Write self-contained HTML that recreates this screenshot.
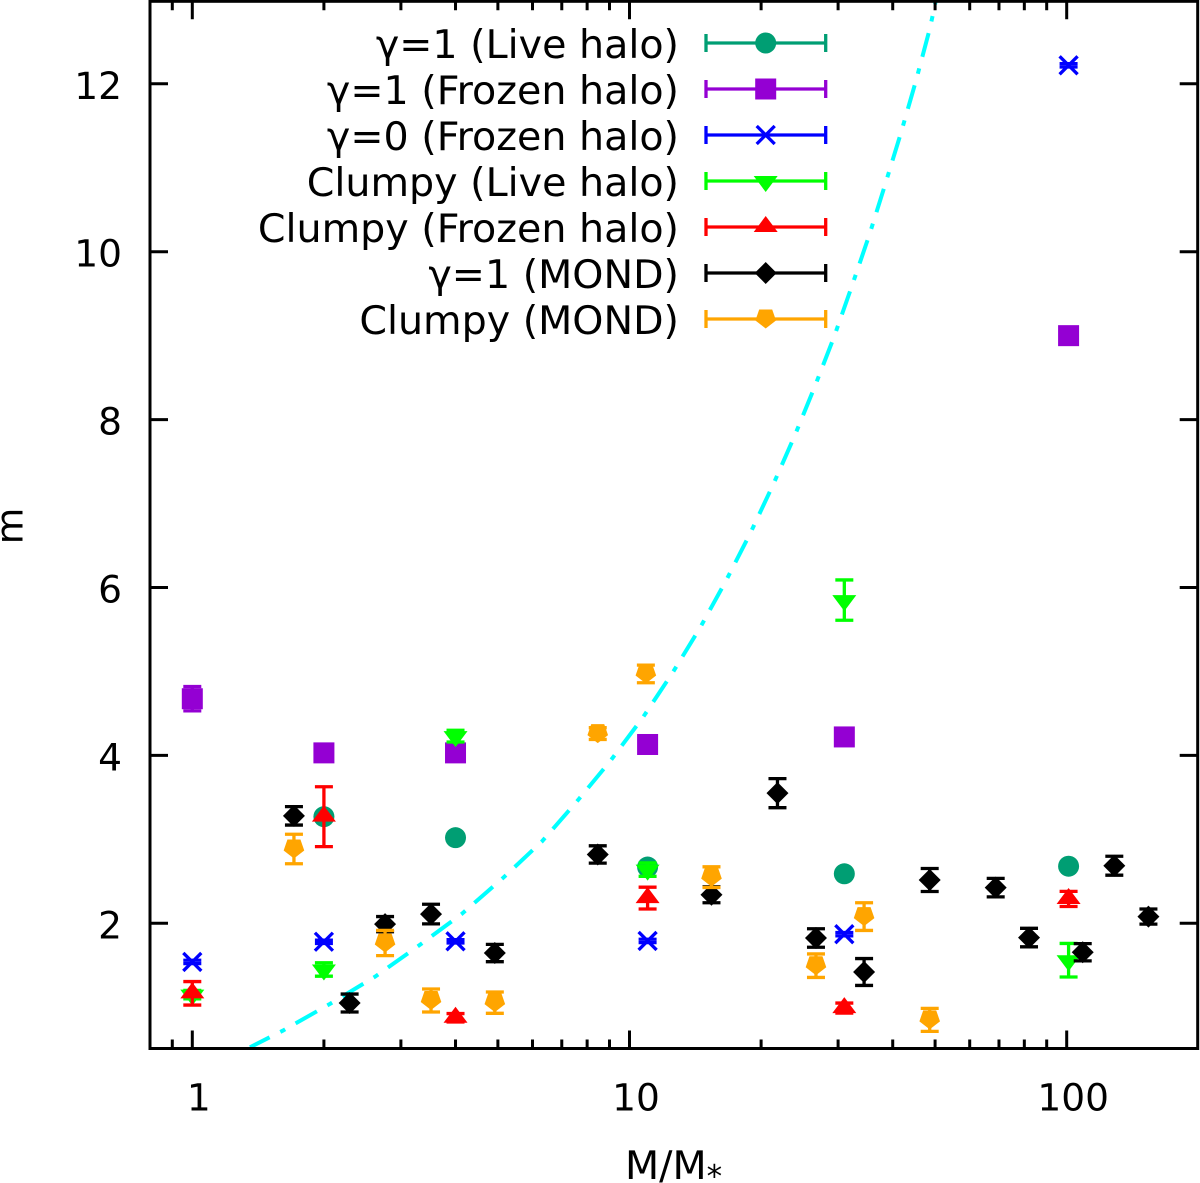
<!DOCTYPE html>
<html lang="en">
<head>
<meta charset="utf-8">
<title>m versus M/M* scatter chart</title>
<style>
html,body{margin:0;padding:0;background:#fff;width:1200px;height:1183px;overflow:hidden}
svg{display:block}
text{font-family:"DejaVu Sans","Liberation Sans",sans-serif;font-size:37.5px;fill:#000}
#legend text{font-size:39.6px}
#x-title{font-size:39.6px}
</style>
</head>
<body>
<svg id="chart" xmlns="http://www.w3.org/2000/svg" width="1200" height="1183" viewBox="0 0 1200 1183">
  <defs><clipPath id="plot-clip"><rect x="150" y="0" width="1048" height="1049"/></clipPath></defs>
  <rect x="0" y="0" width="1200" height="1183" fill="#fff"/>
  <g id="curve-layer" clip-path="url(#plot-clip)"></g>
  <g id="series-layer"></g>
  <g id="legend" text-anchor="end">
    <text x="679" y="58">γ=1 (Live halo)</text>
    <text x="679" y="104">γ=1 (Frozen halo)</text>
    <text x="679" y="150">γ=0 (Frozen halo)</text>
    <text x="679" y="196">Clumpy (Live halo)</text>
    <text x="679" y="242">Clumpy (Frozen halo)</text>
    <text x="679" y="288">γ=1 (MOND)</text>
    <text x="679" y="334">Clumpy (MOND)</text>
  </g>
  <g id="axis-layer"></g>
  <text id="x-title" x="625" y="1179">M/M<tspan font-size="31" dy="8">*</tspan></text>
  <text text-anchor="middle" transform="translate(22.5 526) rotate(-90)">m</text>
</svg>
<script>
// ---- axis tick data ----
const xMajorTicks = [1, 10, 100];
const xMinorTicks = [0.9, 2, 3, 4, 5, 6, 7, 8, 9, 20, 30, 40, 50, 60, 70, 80, 90];
const yTicks = [2, 4, 6, 8, 10, 12];

// ---- series data ----
const liveX = [2, 4, 11, 31, 101];
const liveY = [3.27, 3.02, 2.67, 2.59, 2.68];
const liveErr = [0.03, 0.03, 0.03, 0.03, 0.03];

const frozenX = [1, 2, 4, 11, 31, 101];
const frozenY = [4.675, 4.03, 4.03, 4.13, 4.22, 9.0];
const frozenErr = [0.145, 0.03, 0.09, 0.03, 0.03, 0.03];

const gamma0X = [1, 2, 4, 11, 31, 101];
const gamma0Y = [1.54, 1.78, 1.785, 1.79, 1.87, 12.22];
const gamma0Err = [0.02, 0.02, 0.02, 0.02, 0.02, 0.02];

const clumpyLiveX = [1, 2, 4, 11, 31, 101];
const clumpyLiveY = [1.15, 1.45, 4.23, 2.64, 5.85, 1.56];
const clumpyLiveErr = [0.05, 0.08, 0.07, 0.08, 0.24, 0.2];

const clumpyFrozenX = [1, 2, 4, 11, 31, 101];
const clumpyFrozenY = [1.166, 3.27, 0.875, 2.3, 0.99, 2.29];
const clumpyFrozenErr = [0.14, 0.357, 0.05, 0.13, 0.06, 0.09];

const mondX = [1.708, 2.29, 2.76, 3.516, 4.92, 8.46, 15.4, 21.8, 26.7, 34.4, 48.6, 68.8, 82, 108.8, 128.5, 153.8];
const mondY = [3.28, 1.05, 1.99, 2.11, 1.646, 2.82, 2.34, 3.55, 1.825, 1.42, 2.516, 2.425, 1.83, 1.655, 2.686, 2.08];
const mondErr = [0.11, 0.107, 0.09, 0.117, 0.103, 0.103, 0.095, 0.173, 0.11, 0.16, 0.137, 0.11, 0.11, 0.103, 0.113, 0.09];

const clumpyMondX = [1.708, 2.76, 3.516, 4.92, 8.46, 10.9, 15.4, 26.7, 34.4, 48.6];
const clumpyMondY = [2.885, 1.765, 1.08, 1.055, 4.26, 4.97, 2.55, 1.495, 2.08, 0.85];
const clumpyMondErr = [0.176, 0.15, 0.137, 0.127, 0.07, 0.105, 0.123, 0.14, 0.165, 0.137];

// ---- dash-dot reference curve ----
const curveX = [1.355, 1.61, 2.058, 2.617, 3.306, 4.132, 5.145, 6.298, 7.572, 9.04, 10.72, 12.55, 14.5, 16.62, 18.9, 21.33, 23.87, 26.56, 29.39, 32.28, 35.36, 38.47, 41.78, 45.15, 48.68, 50.06, 50.5];
const curveY = [0.523, 0.721, 1.035, 1.364, 1.738, 2.111, 2.543, 2.972, 3.448, 3.933, 4.449, 4.985, 5.521, 6.081, 6.649, 7.229, 7.808, 8.4, 8.99, 9.595, 10.199, 10.806, 11.417, 12.025, 12.665, 12.959, 13.1];

// ---- axis functions ----
const xPx = v => 192.3 + Math.log10(v) * 437.2;
const yPx = v => 923.3 - (v - 2) * 83.95;

const NS = 'http://www.w3.org/2000/svg';
const LW = 3.3;
function make(tag, attrs, parent) {
  const node = document.createElementNS(NS, tag);
  for (const k in attrs) node.setAttribute(k, attrs[k]);
  parent.appendChild(node);
  return node;
}
function drawMarker(kind, cx, cy, color, parent) {
  let m;
  const poly = pts => make('polygon', {points: pts.map(p => (cx + p[0]) + ',' + (cy + p[1])).join(' '), fill: color}, parent);
  if (kind === 'circle') m = make('circle', {cx: cx, cy: cy, r: 10.5, fill: color}, parent);
  if (kind === 'square') m = make('rect', {x: cx - 10.5, y: cy - 10.5, width: 21, height: 21, fill: color}, parent);
  if (kind === 'cross') m = make('path', {d: 'M' + (cx - 9) + ' ' + (cy - 9) + 'L' + (cx + 9) + ' ' + (cy + 9) + 'M' + (cx - 9) + ' ' + (cy + 9) + 'L' + (cx + 9) + ' ' + (cy - 9), stroke: color, 'stroke-width': LW, fill: 'none'}, parent);
  if (kind === 'down') m = poly([[-12, -5], [12, -5], [0, 11]]);
  if (kind === 'up') m = poly([[0, -11], [12, 5], [-12, 5]]);
  if (kind === 'diamond') m = poly([[0, -11], [11, 0], [0, 11], [-11, 0]]);
  if (kind === 'pentagon') m = poly([[-6.5, -9.5], [6.5, -9.5], [10.3, 1.5], [0, 9.5], [-10.3, 1.5]]);
  
  
  return m;
}

// ---- curve ----
const curveLayer = document.getElementById('curve-layer');
const curvePath = make('polyline', {
  points: curveX.map((x, i) => xPx(x).toFixed(1) + ',' + yPx(curveY[i]).toFixed(1)).join(' '),
  fill: 'none', stroke: '#00ffff', 'stroke-width': 4, 'stroke-dasharray': '24.5 12 5.5 12', 'stroke-dashoffset': '2.5'
}, curveLayer);



// ---- series ----
const seriesLayer = document.getElementById('series-layer');
function drawSeries(name, xs, ys, errs, color, kind) {
  const g = make('g', {}, seriesLayer);
  
  
  xs.forEach((x, i) => {
    const pt = make('g', {}, g);
    
    
    const cx = xPx(x), cy = yPx(ys[i]), top = yPx(ys[i] + errs[i]), bot = yPx(ys[i] - errs[i]);
    const bar = make('path', {d: 'M' + cx + ' ' + top + 'V' + bot + 'M' + (cx - 9) + ' ' + top + 'H' + (cx + 9) + 'M' + (cx - 9) + ' ' + bot + 'H' + (cx + 9), stroke: color, 'stroke-width': LW, fill: 'none'}, pt);
    
    
    drawMarker(kind, cx, cy, color, pt);
  });
}
drawSeries('gamma1-live', liveX, liveY, liveErr, '#009e73', 'circle');
drawSeries('gamma1-frozen', frozenX, frozenY, frozenErr, '#9400d3', 'square');
drawSeries('gamma0-frozen', gamma0X, gamma0Y, gamma0Err, '#0000ff', 'cross');
drawSeries('clumpy-live', clumpyLiveX, clumpyLiveY, clumpyLiveErr, '#00ff00', 'down');
drawSeries('clumpy-frozen', clumpyFrozenX, clumpyFrozenY, clumpyFrozenErr, '#ff0000', 'up');
drawSeries('gamma1-mond', mondX, mondY, mondErr, '#000000', 'diamond');
drawSeries('clumpy-mond', clumpyMondX, clumpyMondY, clumpyMondErr, '#ffa500', 'pentagon');

// ---- legend samples ----
const legendLayer = document.getElementById('legend');
const legendColors = ['#009e73', '#9400d3', '#0000ff', '#00ff00', '#ff0000', '#000000', '#ffa500'];
const legendKinds = ['circle', 'square', 'cross', 'down', 'up', 'diamond', 'pentagon'];
legendColors.forEach((color, i) => {
  const ly = 43 + i * 46;
  const g = make('g', {}, legendLayer);
  
  
  make('path', {d: 'M706 ' + ly + 'H825.7M706 ' + (ly - 9) + 'V' + (ly + 9) + 'M825.7 ' + (ly - 9) + 'V' + (ly + 9), stroke: color, 'stroke-width': LW, fill: 'none'}, g);
  drawMarker(legendKinds[i], 765.7, ly, color, g);
});

// ---- axes ----
const axisLayer = document.getElementById('axis-layer');
const L = 150, R = 1197.7, T = 1.3, B = 1048.5;
const frame = make('rect', {x: L, y: T, width: R - L, height: B - T, fill: 'none', stroke: '#000', 'stroke-width': 3}, axisLayer);



xMinorTicks.forEach(v => {
  const t = make('path', {d: 'M' + xPx(v) + ' ' + B + 'v-9M' + xPx(v) + ' ' + T + 'v9', stroke: '#000', 'stroke-width': 3, fill: 'none'}, axisLayer);
  
  
});
xMajorTicks.forEach(v => {
  const t = make('path', {d: 'M' + xPx(v) + ' ' + B + 'v-18M' + xPx(v) + ' ' + T + 'v18', stroke: '#000', 'stroke-width': 3, fill: 'none'}, axisLayer);
  
  
  const lab = make('text', {x: xPx(v) + 6.5, y: 1110.5, 'text-anchor': 'middle'}, axisLayer);
  
  
  lab.textContent = String(v);
});
yTicks.forEach(v => {
  const t = make('path', {d: 'M' + L + ' ' + yPx(v) + 'h18M' + R + ' ' + yPx(v) + 'h-18', stroke: '#000', 'stroke-width': 3, fill: 'none'}, axisLayer);
  
  
  const lab = make('text', {x: 122, y: yPx(v) + 15, 'text-anchor': 'end'}, axisLayer);
  
  
  lab.textContent = String(v);
});
</script>
</body>
</html>
